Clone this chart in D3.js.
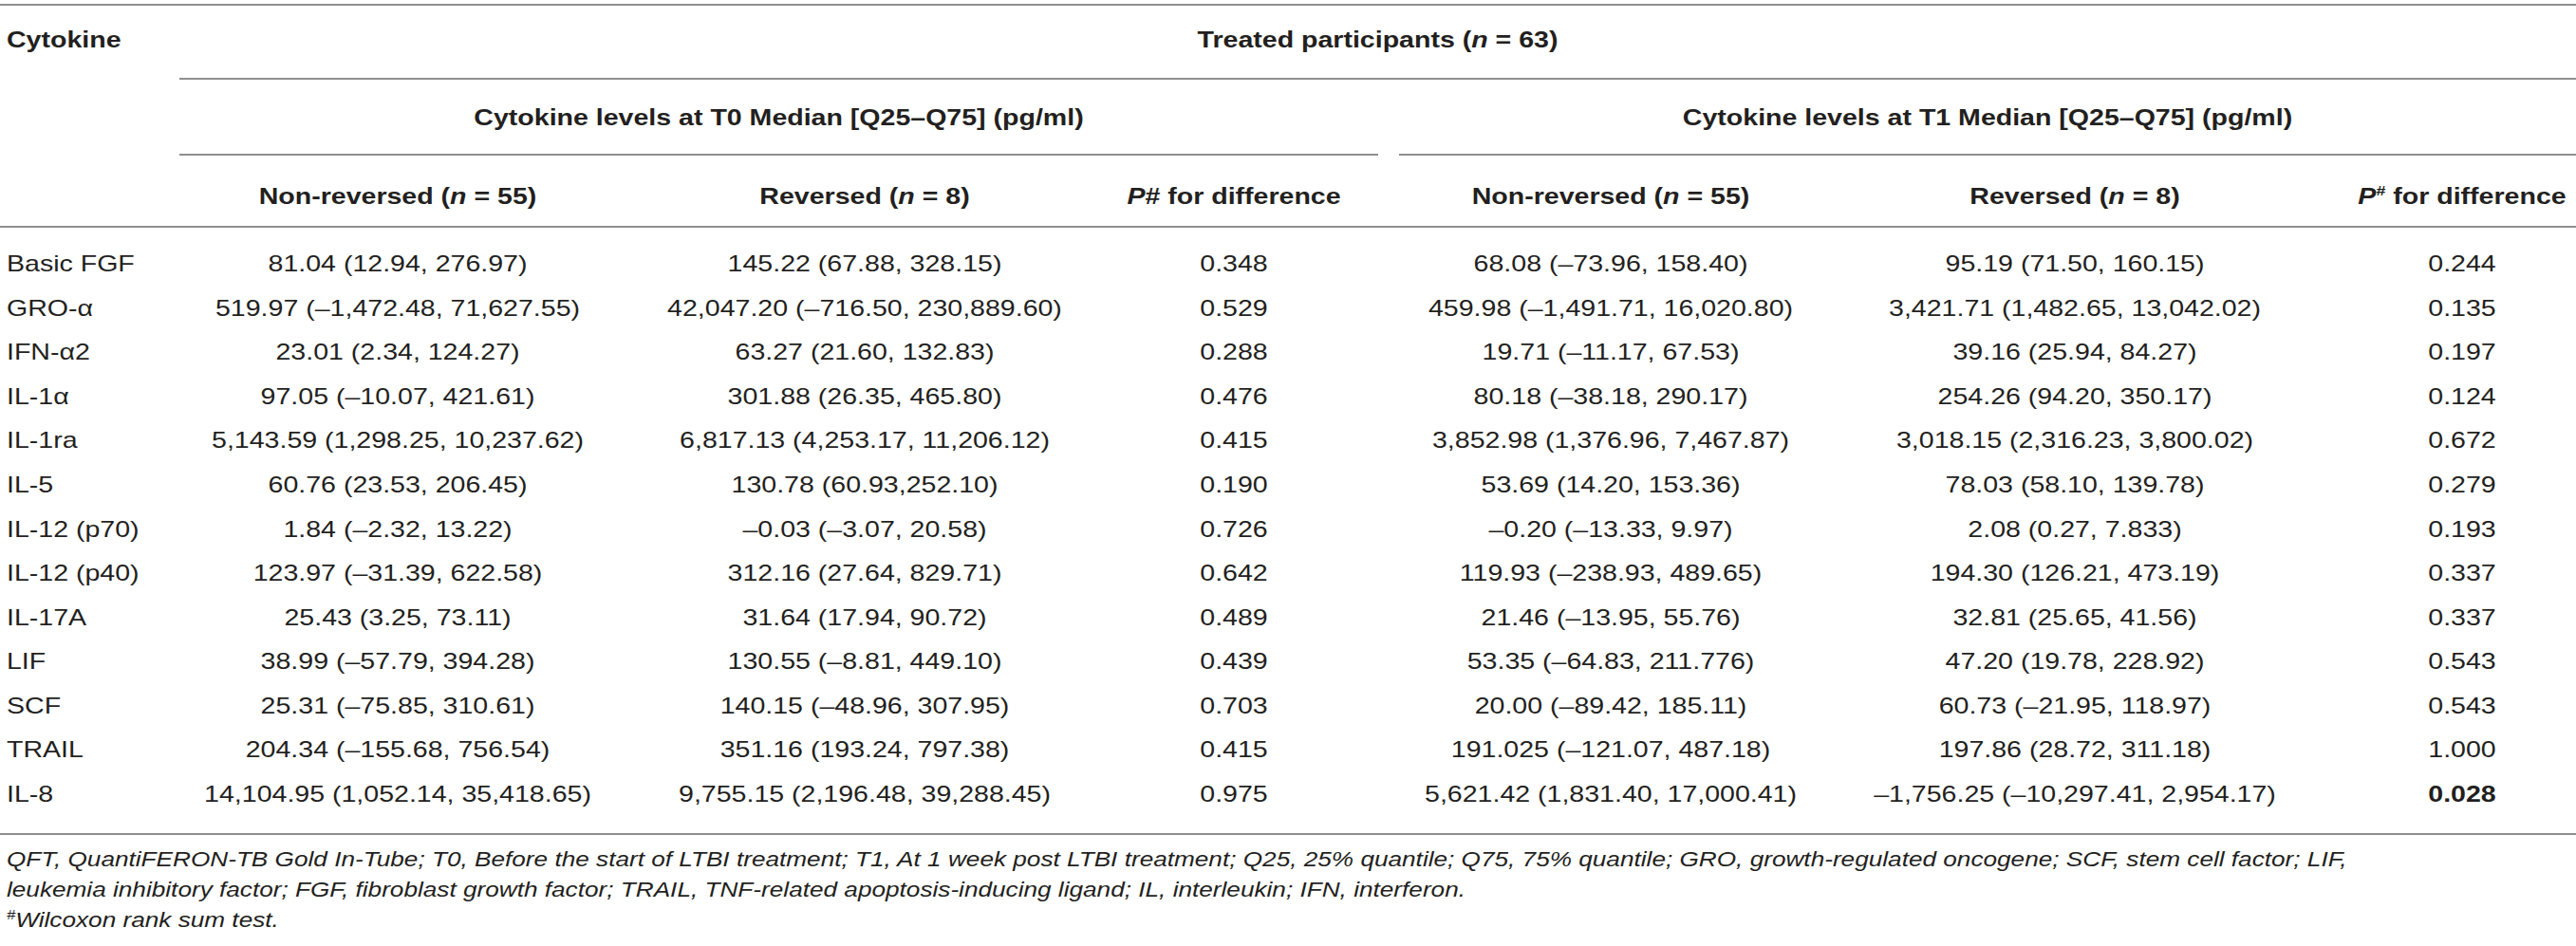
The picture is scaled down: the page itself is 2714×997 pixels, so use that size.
<!DOCTYPE html>
<html>
<head>
<meta charset="utf-8">
<script src="https://cdn.jsdelivr.net/npm/d3@7"></script>
<style>
  body { margin: 0; background: #fff; }
  svg text { font-family: "Liberation Sans", Arial, Helvetica, sans-serif; fill: #231f20; }
</style>
</head>
<body>
<svg width="2714" height="997"></svg>
<script>
// table values
var cytokines = ["Basic FGF", "GRO-\u03b1", "IFN-\u03b12", "IL-1\u03b1", "IL-1ra", "IL-5", "IL-12 (p70)",
  "IL-12 (p40)", "IL-17A", "LIF", "SCF", "TRAIL", "IL-8"];

var t0NonReversed = ["81.04 (12.94, 276.97)", "519.97 (\u20131,472.48, 71,627.55)", "23.01 (2.34, 124.27)",
  "97.05 (\u201310.07, 421.61)", "5,143.59 (1,298.25, 10,237.62)", "60.76 (23.53, 206.45)",
  "1.84 (\u20132.32, 13.22)", "123.97 (\u201331.39, 622.58)", "25.43 (3.25, 73.11)",
  "38.99 (\u201357.79, 394.28)", "25.31 (\u201375.85, 310.61)", "204.34 (\u2013155.68, 756.54)",
  "14,104.95 (1,052.14, 35,418.65)"];
var t0Reversed = ["145.22 (67.88, 328.15)", "42,047.20 (\u2013716.50, 230,889.60)", "63.27 (21.60, 132.83)",
  "301.88 (26.35, 465.80)", "6,817.13 (4,253.17, 11,206.12)", "130.78 (60.93,252.10)",
  "\u20130.03 (\u20133.07, 20.58)", "312.16 (27.64, 829.71)", "31.64 (17.94, 90.72)",
  "130.55 (\u20138.81, 449.10)", "140.15 (\u201348.96, 307.95)", "351.16 (193.24, 797.38)",
  "9,755.15 (2,196.48, 39,288.45)"];
var t0P = ["0.348", "0.529", "0.288", "0.476", "0.415", "0.190", "0.726", "0.642", "0.489", "0.439",
  "0.703", "0.415", "0.975"];

var t1NonReversed = ["68.08 (\u201373.96, 158.40)", "459.98 (\u20131,491.71, 16,020.80)", "19.71 (\u201311.17, 67.53)",
  "80.18 (\u201338.18, 290.17)", "3,852.98 (1,376.96, 7,467.87)", "53.69 (14.20, 153.36)",
  "\u20130.20 (\u201313.33, 9.97)", "119.93 (\u2013238.93, 489.65)", "21.46 (\u201313.95, 55.76)",
  "53.35 (\u201364.83, 211.776)", "20.00 (\u201389.42, 185.11)", "191.025 (\u2013121.07, 487.18)",
  "5,621.42 (1,831.40, 17,000.41)"];
var t1Reversed = ["95.19 (71.50, 160.15)", "3,421.71 (1,482.65, 13,042.02)", "39.16 (25.94, 84.27)",
  "254.26 (94.20, 350.17)", "3,018.15 (2,316.23, 3,800.02)", "78.03 (58.10, 139.78)",
  "2.08 (0.27, 7.833)", "194.30 (126.21, 473.19)", "32.81 (25.65, 41.56)",
  "47.20 (19.78, 228.92)", "60.73 (\u201321.95, 118.97)", "197.86 (28.72, 311.18)",
  "\u20131,756.25 (\u201310,297.41, 2,954.17)"];
var t1P = ["0.244", "0.135", "0.197", "0.124", "0.672", "0.279", "0.193", "0.337", "0.337", "0.543",
  "0.543", "1.000", "0.028"];
var significant = ["0.028"];

var footnotes = [
  "QFT, QuantiFERON-TB Gold In-Tube; T0, Before the start of LTBI treatment; T1, At 1 week post LTBI treatment; Q25, 25% quantile; Q75, 75% quantile; GRO, growth-regulated oncogene; SCF, stem cell factor; LIF,",
  "leukemia inhibitory factor; FGF, fibroblast growth factor; TRAIL, TNF-related apoptosis-inducing ligand; IL, interleukin; IFN, interferon.",
  "Wilcoxon rank sum test."
];

var svg = d3.select("svg"),
    width = +svg.attr("width");

var stretch = 1.19;   // the original table is a bit wider than plain Helvetica

var colKeys = ["t0n", "t0r", "t0p", "t1n", "t1r", "t1p"];
var col = d3.scaleOrdinal().domain(colKeys).range([419, 911, 1300, 1697, 2186, 2594]);
var row = d3.scaleLinear().domain([0, cytokines.length - 1]).range([286, 845]);

function txt(g, x, y, anchor, size, weight, style) {
  return g.append("text")
    .attr("transform", "translate(" + x + "," + y + ") scale(" + stretch + ",1)")
    .attr("text-anchor", anchor)
    .style("font-size", size + "px")
    .style("font-weight", weight || "normal")
    .style("font-style", style || "normal");
}

function rule(y, x1, x2) {
  svg.append("line")
    .attr("x1", x1).attr("x2", x2)
    .attr("y1", y).attr("y2", y)
    .attr("stroke", "#8f8f8f")
    .attr("stroke-width", 2);
}

// rules
rule(5, 0, width);
rule(83, 189, width);
rule(163, 189, 1452);
rule(163, 1474, width);
rule(239, 0, width);
rule(879, 0, width);

var head = svg.append("g");

txt(head, 7, 50, "start", 24, "bold").text("Cytokine");

var tp = txt(head, (189 + width) / 2, 50, "middle", 24, "bold");
tp.append("tspan").text("Treated participants (");
tp.append("tspan").style("font-style", "italic").text("n");
tp.append("tspan").text(" = 63)");

txt(head, (189 + 1452) / 2, 132, "middle", 24, "bold").text("Cytokine levels at T0 Median [Q25\u2013Q75] (pg/ml)");
txt(head, (1474 + width) / 2, 132, "middle", 24, "bold").text("Cytokine levels at T1 Median [Q25\u2013Q75] (pg/ml)");

function groupHead(key, label, n) {
  var t = txt(head, col(key), 215, "middle", 24, "bold");
  t.append("tspan").text(label + " (");
  t.append("tspan").style("font-style", "italic").text("n");
  t.append("tspan").text(" = " + n + ")");
}
groupHead("t0n", "Non-reversed", 55);
groupHead("t0r", "Reversed", 8);
groupHead("t1n", "Non-reversed", 55);
groupHead("t1r", "Reversed", 8);

var p0 = txt(head, col("t0p"), 215, "middle", 24, "bold");
p0.append("tspan").style("font-style", "italic").text("P");
p0.append("tspan").text("# for difference");

var p1 = txt(head, col("t1p"), 215, "middle", 24, "bold");
p1.append("tspan").style("font-style", "italic").text("P");
p1.append("tspan").attr("dy", -9).style("font-size", "15px").text("#");
p1.append("tspan").attr("dy", 9).text(" for difference");

// body rows
var body = svg.append("g");
var columns = { t0n: t0NonReversed, t0r: t0Reversed, t0p: t0P, t1n: t1NonReversed, t1r: t1Reversed, t1p: t1P };

cytokines.forEach(function(c, i) {
  txt(body, 7, row(i), "start", 24).text(c);
  colKeys.forEach(function(k) {
    var v = columns[k][i];
    var bold = (k === "t1p" && significant.indexOf(v) >= 0) ? "bold" : "normal";
    txt(body, col(k), row(i), "middle", 24, bold).text(v);
  });
});

// footnotes
var foot = svg.append("g");
var footY = d3.scaleLinear().domain([0, 2]).range([913, 977]);
footnotes.forEach(function(f, i) {
  var t = txt(foot, 7, footY(i), "start", 22, "normal", "italic");
  if (i === 2) {
    t.append("tspan").attr("dy", -8).style("font-size", "14px").text("#");
    t.append("tspan").attr("dy", 8).text(f);
  } else {
    t.text(f);
  }
});
</script>
</body>
</html>
